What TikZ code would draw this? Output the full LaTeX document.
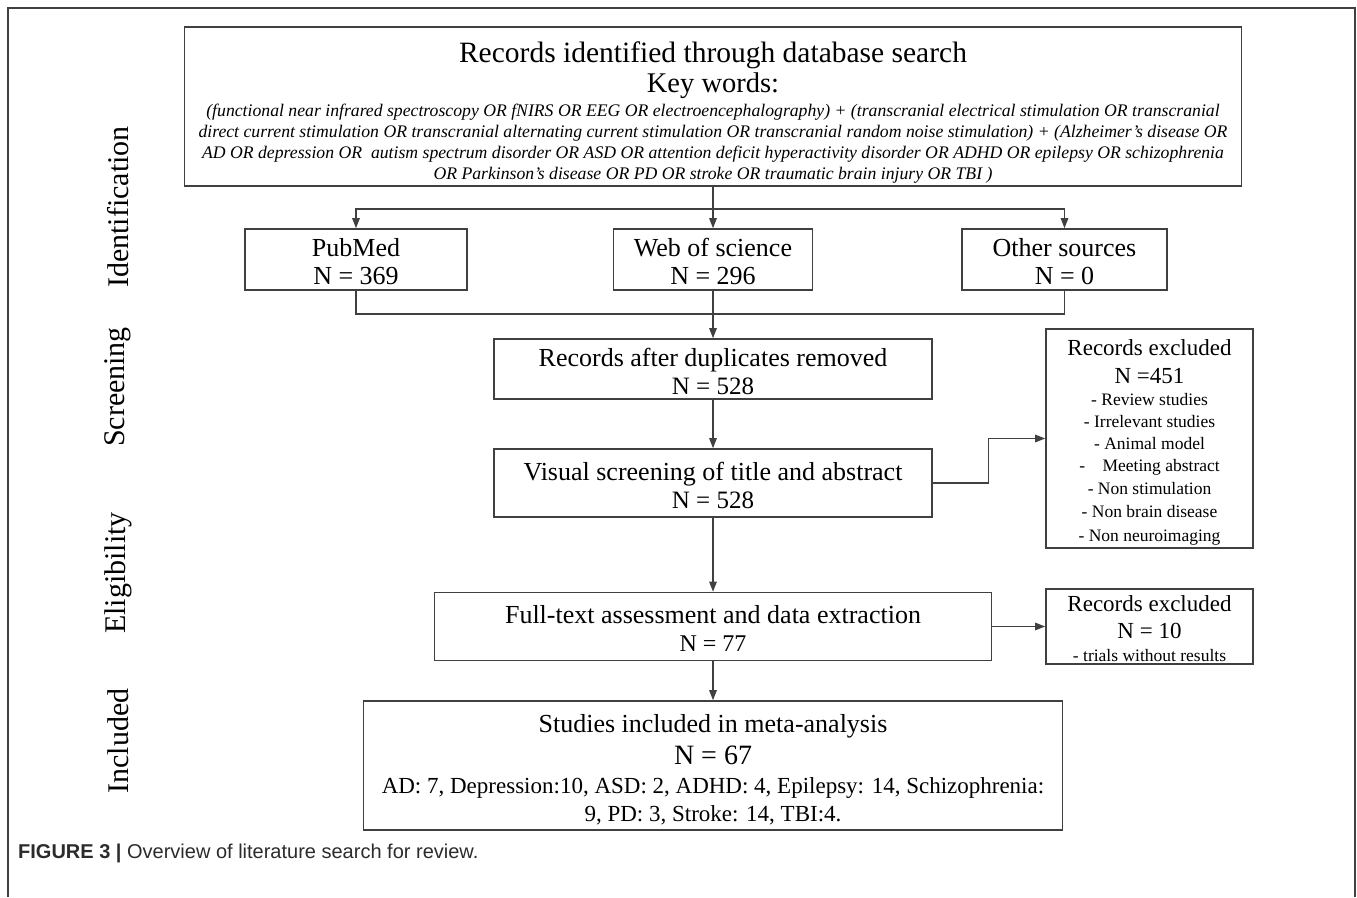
\documentclass[tikz,border=0pt]{standalone}
\usepackage{fontspec}
\setmainfont{Liberation Serif}
\newfontfamily\capfont{Liberation Sans}
\usetikzlibrary{arrows.meta}
\definecolor{ln}{HTML}{404040}
\definecolor{capgray}{HTML}{2B2B2B}
\newcommand{\fs}[1]{\fontsize{#1}{#1}\selectfont}
\begin{document}
\begin{tikzpicture}[x=1pt,y=-1pt,
  box/.style={draw=ln,line width=1.6pt,rectangle,inner sep=0pt},
  txt/.style={anchor=base,inner sep=0pt},
  conn/.style={draw=ln,line width=1.2pt},
  arr/.style={conn,-{Triangle[length=10pt,width=7.5pt]}},
  side/.style={rotate=90,inner sep=0pt,font=\fs{30}}]
\useasboundingbox (0,0) rectangle (1357,897);
% outer frame
\draw[draw=ln,line width=1.6pt] (8,897) -- (8,8) -- (1355,8) -- (1355,897);
% boxes
\node[box,minimum width=1057pt,minimum height=159pt] (top) at (713,106.5) {};
\node[box,minimum width=222pt,minimum height=61pt] (pub) at (356,259.5) {};
\node[box,minimum width=199pt,minimum height=61pt] (wos) at (713,259.5) {};
\node[box,minimum width=205pt,minimum height=61pt] (oth) at (1064.5,259.5) {};
\node[box,minimum width=438pt,minimum height=60pt] (dup) at (713,369) {};
\node[box,minimum width=438pt,minimum height=68pt] (vis) at (713,483) {};
\node[box,minimum width=207pt,minimum height=219pt] (ex1) at (1149.5,438.5) {};
\node[box,minimum width=557pt,minimum height=68pt] (full) at (713,626.5) {};
\node[box,minimum width=207pt,minimum height=75pt] (ex2) at (1149.5,626.5) {};
\node[box,minimum width=699pt,minimum height=129pt] (inc) at (713,765.5) {};
% texts: top
\node[txt,font=\fs{29.5}] (t1) at (713,62) {Records identified through database search};
\node[txt,font=\fs{28.5}] (t2) at (713,92) {Key words:};
\node[txt,font=\fs{17.7}\itshape] (t3) at (713,116) {(functional near infrared spectroscopy OR fNIRS OR EEG OR electroencephalography) + (transcranial electrical stimulation OR transcranial};
\node[txt,font=\fs{17.7}\itshape] (t4) at (713,137) {direct current stimulation OR transcranial alternating current stimulation OR transcranial random noise stimulation) + (Alzheimer's disease OR};
\node[txt,font=\fs{17.7}\itshape] (t5) at (713,158) {AD OR depression OR\ \ autism spectrum disorder OR ASD OR attention deficit hyperactivity disorder OR ADHD OR epilepsy OR schizophrenia};
\node[txt,font=\fs{17.7}\itshape] (t6) at (713,179) {OR Parkinson's disease OR PD OR stroke OR traumatic brain injury OR TBI )};
% sources
\node[txt,font=\fs{26}] (p1) at (356,256) {PubMed};
\node[txt,font=\fs{26}] (p2) at (356,284) {N = 369};
\node[txt,font=\fs{26}] (w1) at (713,256) {Web of science};
\node[txt,font=\fs{26}] (w2) at (713,284) {N = 296};
\node[txt,font=\fs{26}] (o1) at (1064.5,256) {Other sources};
\node[txt,font=\fs{26}] (o2) at (1064.5,284) {N = 0};
% screening
\node[txt,font=\fs{26}] (d1) at (713,366) {Records after duplicates removed};
\node[txt,font=\fs{25}] (d2) at (713,394) {N = 528};
\node[txt,font=\fs{26}] (v1) at (713,480) {Visual screening of title and abstract};
\node[txt,font=\fs{25}] (v2) at (713,508) {N = 528};
% excluded 1
\node[txt,font=\fs{23}] (e1) at (1149.5,355) {Records excluded};
\node[txt,font=\fs{23}] (e2) at (1149.5,383) {N =451};
\node[txt,font=\fs{17.5}] (e3) at (1149.5,405) {- Review studies};
\node[txt,font=\fs{17.5}] (e4) at (1149.5,427) {- Irrelevant studies};
\node[txt,font=\fs{17.5}] (e5) at (1149.5,449) {- Animal model};
\node[txt,font=\fs{17.5}] (e6) at (1149.5,471) {-\ \ \ \ Meeting abstract};
\node[txt,font=\fs{17.5}] (e7) at (1149.5,494) {- Non stimulation};
\node[txt,font=\fs{17.5}] (e8) at (1149.5,517) {- Non brain disease};
\node[txt,font=\fs{17.5}] (e9) at (1149.5,541) {- Non neuroimaging};
% eligibility
\node[txt,font=\fs{26}] (f1) at (713,623) {Full-text assessment and data extraction};
\node[txt,font=\fs{24}] (f2) at (713,651) {N = 77};
\node[txt,font=\fs{23}] (x1) at (1149.5,611) {Records excluded};
\node[txt,font=\fs{23}] (x2) at (1149.5,638) {N = 10};
\node[txt,font=\fs{17.5}] (x3) at (1149.5,661) {- trials without results};
% included
\node[txt,font=\fs{26}] (i1) at (713,732) {Studies included in meta-analysis};
\node[txt,font=\fs{28}] (i2) at (713,764) {N = 67};
\node[txt,font=\fs{23}] (i3) at (713,793) {AD: 7, Depression:10, ASD: 2, ADHD: 4, Epilepsy: 14, Schizophrenia:};
\node[txt,font=\fs{23}] (i4) at (713,821) {9, PD: 3, Stroke: 14, TBI:4.};
% side labels
\node[side] (s1) at (118,207) {Identification};
\node[side] (s2) at (118,387) {Screening};
\node[side] (s3) at (118,573) {Eligibility};
\node[side] (s4) at (118,741) {Included};
% caption
\node[anchor=base west,inner sep=0pt,text=capgray,font=\capfont\fs{20}] (cap) at (18,858) {\textbf{FIGURE 3 |} Overview of literature search for review.};
% connectors
\coordinate (j1) at (713,209);
\coordinate (j2) at (713,314);
\draw[conn] (top.south) -- (j1);
\draw[arr] (j1) -| (pub.north);
\draw[arr] (j1) -| (oth.north);
\draw[arr] (j1) -- (wos.north);
\draw[conn] (pub.south) |- (j2);
\draw[conn] (oth.south) |- (j2);
\draw[conn] (wos.south) -- (j2);
\draw[arr] (j2) -- (dup.north);
\draw[arr] (dup.south) -- (vis.north);
\draw[arr] (vis.east) -- ++(56,0) |- (ex1.west);
\draw[arr] (vis.south) -- (full.north);
\draw[arr] (full.east) -- (ex2.west);
\draw[arr] (full.south) -- (inc.north);
\end{tikzpicture}
\end{document}
